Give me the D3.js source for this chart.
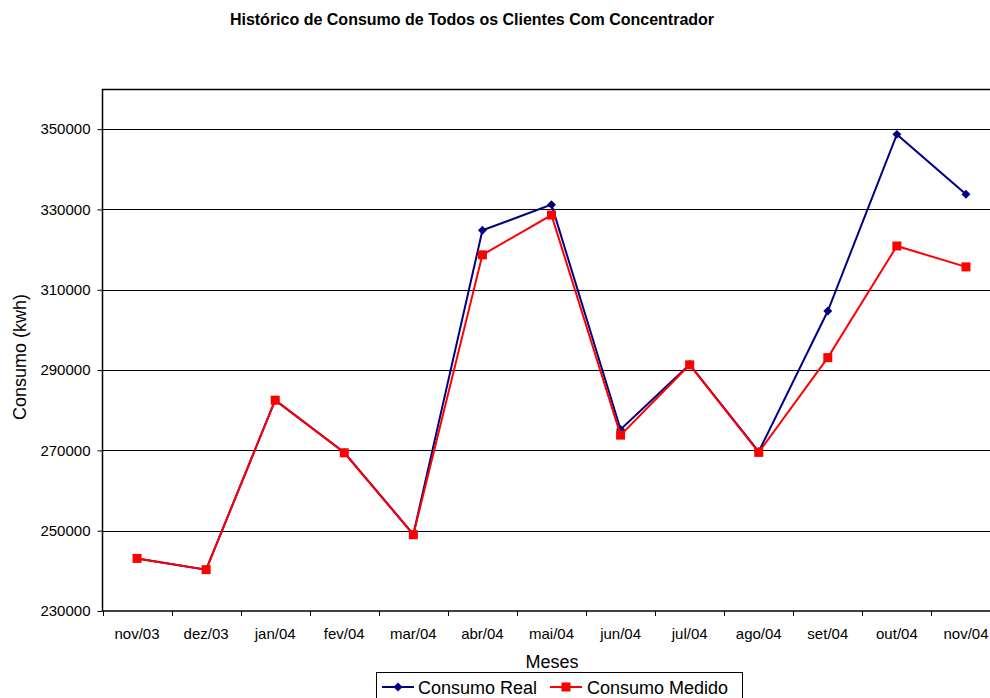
<!DOCTYPE html>
<html>
<head>
<meta charset="utf-8">
<script src="https://cdn.jsdelivr.net/npm/d3@7"></script>
<style>
  body { margin: 0; background: #fff; }
  svg { display: block; font-family: "Liberation Sans", Arial, sans-serif; }
</style>
</head>
<body>
<div id="chart"></div>
<script>
// months on the x axis
var meses = ["nov/03", "dez/03", "jan/04", "fev/04", "mar/04", "abr/04", "mai/04",
             "jun/04", "jul/04", "ago/04", "set/04", "out/04", "nov/04"];

// consumption values (kwh)
var consumoReal = [243100, 240300, 282500, 269500, 249100, 324800, 331200,
                   275200, 291400, 269700, 304700, 348700, 333800];
var consumoMedido = [243100, 240300, 282500, 269400, 249000, 318700, 328600,
                     273800, 291300, 269500, 293100, 320900, 315700];

var yTicks = [230000, 250000, 270000, 290000, 310000, 330000, 350000];

var width = 990, height = 698;
// plot area runs past the right side of the picture, like the original
var plotLeft = 102.5, plotRight = 1000.5, plotTop = 89, plotBottom = 611;

var svg = d3.select("#chart").append("svg")
    .attr("width", width)
    .attr("height", height);

var x = d3.scaleBand()
    .domain(meses)
    .range([plotLeft, plotRight]);

var y = d3.scaleLinear()
    .domain([230000, 360000])
    .range([plotBottom, plotTop]);

// title
svg.append("text")
    .attr("x", 472)
    .attr("y", 25)
    .attr("text-anchor", "middle")
    .attr("font-size", "16px")
    .attr("font-weight", "bold")
    .text("Histórico de Consumo de Todos os Clientes Com Concentrador");

// gridlines
svg.append("g")
    .selectAll("line")
    .data(yTicks.slice(1))
    .enter().append("line")
    .attr("x1", plotLeft)
    .attr("x2", plotRight)
    .attr("y1", function (d) { return Math.round(y(d)) + 0.5; })
    .attr("y2", function (d) { return Math.round(y(d)) + 0.5; })
    .attr("stroke", "#000")
    .attr("stroke-width", 1);

// plot frame (top + left, the right side is off screen)
svg.append("path")
    .attr("d", "M" + plotRight + "," + (plotTop + 0.5) + "H" + plotLeft + "V" + plotBottom)
    .attr("fill", "none")
    .attr("stroke", "#000")
    .attr("stroke-width", 1.5);

// y axis
var yAxis = svg.append("g")
    .attr("transform", "translate(" + plotLeft + ",0)")
    .call(d3.axisLeft(y).tickValues(yTicks).tickSize(5).tickPadding(7).tickFormat(d3.format("d")));
yAxis.select(".domain").remove();
yAxis.selectAll("line").attr("stroke", "#000");
yAxis.selectAll("text")
    .attr("font-size", "15px")
    .attr("font-family", "Liberation Sans, Arial, sans-serif")
    .attr("fill", "#000");

// x axis
var xAxis = svg.append("g")
    .attr("transform", "translate(0," + plotBottom + ")")
    .call(d3.axisBottom(x).tickSize(0).tickPadding(17));
xAxis.select(".domain")
    .attr("d", "M" + plotLeft + ",0H" + plotRight)
    .attr("stroke", "#000")
    .attr("stroke-width", 1.5);
xAxis.selectAll("text")
    .attr("font-size", "15px")
    .attr("font-family", "Liberation Sans, Arial, sans-serif")
    .attr("fill", "#000");

// tick marks between the categories
svg.append("g")
    .selectAll("line")
    .data(meses)
    .enter().append("line")
    .attr("x1", function (d) { return Math.round(x(d)) + 0.5; })
    .attr("x2", function (d) { return Math.round(x(d)) + 0.5; })
    .attr("y1", plotBottom)
    .attr("y2", plotBottom + 5)
    .attr("stroke", "#000");

// axis titles
svg.append("text")
    .attr("x", 552)
    .attr("y", 668)
    .attr("text-anchor", "middle")
    .attr("font-size", "18px")
    .text("Meses");

svg.append("text")
    .attr("transform", "translate(26,357) rotate(-90)")
    .attr("text-anchor", "middle")
    .attr("font-size", "18px")
    .text("Consumo (kwh)");

var cx = function (d, i) { return x(meses[i]) + x.bandwidth() / 2; };

var line = d3.line()
    .x(function (d, i) { return cx(d, i); })
    .y(function (d) { return y(d); });

// excel style diamond = square turned 45 degrees
var diamond = d3.symbol().type(d3.symbolSquare).size(40);

// Consumo Real
svg.append("path")
    .datum(consumoReal)
    .attr("d", line)
    .attr("fill", "none")
    .attr("stroke", "#000080")
    .attr("stroke-width", 2);

svg.append("g")
    .selectAll("path")
    .data(consumoReal)
    .enter().append("path")
    .attr("d", diamond)
    .attr("transform", function (d, i) { return "translate(" + cx(d, i) + "," + y(d) + ") rotate(45)"; })
    .attr("fill", "#000080");

// Consumo Medido
svg.append("path")
    .datum(consumoMedido)
    .attr("d", line)
    .attr("fill", "none")
    .attr("stroke", "#ff0000")
    .attr("stroke-width", 2);

svg.append("g")
    .selectAll("rect")
    .data(consumoMedido)
    .enter().append("rect")
    .attr("x", function (d, i) { return cx(d, i) - 4.5; })
    .attr("y", function (d) { return y(d) - 4.5; })
    .attr("width", 9)
    .attr("height", 9)
    .attr("fill", "#ff0000");

// legend
var legend = svg.append("g");
legend.append("rect")
    .attr("x", 376.5)
    .attr("y", 672.5)
    .attr("width", 366)
    .attr("height", 32)
    .attr("fill", "#fff")
    .attr("stroke", "#000")
    .attr("stroke-width", 1);

var ly = 687;
legend.append("line")
    .attr("x1", 382).attr("x2", 414)
    .attr("y1", ly).attr("y2", ly)
    .attr("stroke", "#000080").attr("stroke-width", 2);
legend.append("path")
    .attr("d", diamond)
    .attr("transform", "translate(398," + ly + ") rotate(45)")
    .attr("fill", "#000080");
legend.append("text")
    .attr("x", 418)
    .attr("y", ly + 6.5)
    .attr("font-size", "18px")
    .text("Consumo Real");

legend.append("line")
    .attr("x1", 550).attr("x2", 582)
    .attr("y1", ly).attr("y2", ly)
    .attr("stroke", "#ff0000").attr("stroke-width", 2);
legend.append("rect")
    .attr("x", 561.5).attr("y", ly - 4.5)
    .attr("width", 9).attr("height", 9)
    .attr("fill", "#ff0000");
legend.append("text")
    .attr("x", 587)
    .attr("y", ly + 6.5)
    .attr("font-size", "18px")
    .text("Consumo Medido");
</script>
</body>
</html>
